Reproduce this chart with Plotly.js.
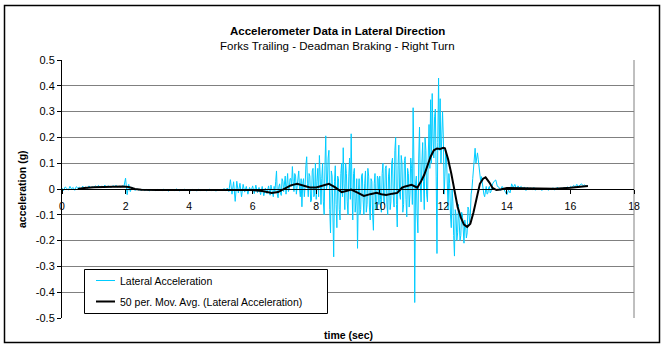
<!DOCTYPE html>
<html><head><meta charset="utf-8">
<script src="https://cdn.plot.ly/plotly-3.0.1.min.js"></script>
<style>html,body{margin:0;padding:0;background:#fff}#chart{width:662px;height:345px}</style>
</head><body><div id="chart"></div>
<script>
// Raw lateral acceleration (g) in three runs
// run 1: t = 0 .. 6.5 s every 0.05 s
const headStart = 0, headStep = 0.05;
const accelHead = [
 0.004,-0.006,0.008,0.002,-0.004,0.01,0.0,0.006,-0.005,0.009,0.003,0.007,-0.002,0.011,0.004,0.008,0.002,0.012,0.005,0.009,
 0.006,0.012,0.008,0.014,0.005,0.011,0.009,0.015,0.007,0.012,0.01,0.006,0.013,0.009,0.014,0.008,0.011,0.007,0.012,0.01,
 0.042,-0.022,0.018,-0.01,0.008,0.002,-0.006,0.001,-0.004,-0.002,-0.005,0.0,-0.006,-0.002,-0.004,-0.007,-0.001,-0.005,-0.003,-0.006,
 -0.002,-0.006,-0.003,-0.007,-0.001,-0.005,-0.004,-0.008,-0.002,-0.005,-0.003,-0.006,0.0,-0.004,-0.007,-0.003,-0.005,-0.001,-0.006,-0.004,
 -0.003,-0.007,-0.002,-0.005,-0.004,-0.008,-0.001,-0.006,-0.003,-0.005,-0.002,-0.007,-0.004,-0.001,-0.006,-0.003,-0.005,-0.008,-0.002,-0.004,
 -0.003,-0.006,0.002,-0.008,0.004,-0.01,0.036,-0.02,0.028,-0.048,0.03,-0.015,0.022,-0.03,0.018,-0.012,0.01,-0.02,0.006,-0.008,
 0.012,-0.018,0.015,-0.014,0.006,-0.022,0.01,-0.026,0.004,-0.018,0.012
];
// run 2: t = 6.5 .. 13.5 s every 0.025 s (the busy part)
const midStart = 6.5, midStep = 0.025;
const accelMid = [
 0.012,-0.01,-0.024,0.015,0.0,-0.02,-0.03,0.01,-0.01,0.03,0.07,-0.02,-0.034,0.01,0.02,-0.015,-0.025,0.04,0.03,-0.01,
 0.03,0.05,-0.02,0.02,0.06,-0.01,0.0,0.04,0.04,0.01,0.087,0.03,-0.01,0.06,0.05,-0.02,0.02,0.065,0.07,0.0,
 -0.03,0.04,-0.069,0.02,0.04,-0.03,0.01,0.09,0.125,0.02,-0.03,0.06,0.05,-0.05,-0.045,0.07,0.08,-0.03,-0.02,0.1,
 -0.04,0.03,0.08,-0.03,0.13,0.05,-0.06,0.04,0.1,-0.05,-0.1,0.09,0.206,0.0,0.02,0.12,0.15,-0.08,-0.17,0.07,
 0.05,-0.1,-0.263,0.03,0.09,-0.06,-0.15,0.05,0.04,-0.08,-0.12,0.06,0.1,-0.03,0.16,0.02,-0.08,0.1,0.06,-0.05,
 -0.1,0.05,0.12,-0.04,0.214,0.0,-0.12,0.06,0.08,-0.09,-0.05,0.04,-0.23,-0.02,0.04,-0.1,-0.08,0.05,0.06,-0.04,
 -0.1,0.02,0.07,-0.09,-0.06,0.08,0.05,-0.07,-0.12,0.04,0.03,-0.1,-0.16,0.02,0.06,-0.08,-0.07,0.05,0.04,-0.06,
 0.05,-0.04,-0.09,0.06,0.1,-0.05,-0.06,0.08,0.09,-0.06,-0.1,0.05,0.08,-0.08,-0.05,0.1,0.12,-0.03,-0.07,0.15,
 0.2,-0.06,-0.147,0.09,0.17,-0.02,-0.04,0.13,0.1,-0.09,-0.06,0.11,0.125,-0.04,-0.108,0.08,0.06,-0.07,-0.02,0.12,
 0.08,-0.06,0.315,0.1,-0.44,0.02,0.05,-0.1,-0.17,0.12,0.24,0.02,-0.05,0.1,0.18,0.03,-0.08,0.2,0.15,-0.02,
 -0.05,0.12,0.25,0.08,0.346,0.1,0.37,0.2,0.12,0.28,0.31,0.05,-0.25,0.18,0.43,0.15,0.35,0.1,0.24,0.3,
 0.2,-0.02,0.05,0.15,0.12,-0.05,-0.08,0.06,0.02,-0.1,-0.15,0.0,-0.05,-0.18,-0.26,-0.08,-0.1,-0.2,-0.17,-0.06,
 -0.12,-0.2,-0.18,-0.09,-0.1,-0.16,-0.21,-0.12,-0.14,-0.19,-0.17,-0.07,-0.08,-0.13,-0.1,-0.02,0.0,0.04,0.074,0.12,
 0.158,0.1,0.13,0.14,0.113,0.08,0.07,0.03,0.048,0.02,0.01,-0.02,-0.03,0.0,0.01,-0.02,-0.017,0.005,0.01,-0.015,-0.01
];
// run 3: t = 13.5 .. 16.55 s every 0.05 s
const tailStart = 13.5, tailStep = 0.05;
const accelTail = [
 -0.01,0.02,0.03,0.035,0.01,0.007,-0.005,0.01,0.0,-0.01,
 -0.022,-0.005,-0.015,0.02,0.005,0.018,0.0,0.012,0.004,0.01,0.0,0.008,-0.006,0.006,-0.004,0.004,-0.002,0.006,-0.005,0.003,
 -0.004,0.003,-0.006,0.002,-0.003,0.004,-0.005,0.001,-0.002,0.005,-0.004,0.002,0.006,-0.002,0.004,0.0,0.007,0.002,0.008,0.004,
 0.01,0.005,0.014,0.008,0.018,0.01,0.015,0.02,0.012,0.016,0.01,0.014
];

// 50 per. moving average
const movAvgTime = [0.5,0.7,1.0,1.3,1.6,1.9,2.1,2.3,2.5,3.0,4.0,5.0,5.5,5.8,6.0,6.3,6.6,6.8,7.0,7.2,7.4,7.6,7.8,8.0,8.2,8.4,8.6,8.8,9.0,9.1,9.3,9.5,9.7,9.9,10.05,10.2,10.4,10.55,10.7,10.8,11.0,11.1,11.18,11.3,11.4,11.5,11.6,11.7,11.8,11.9,12.0,12.05,12.15,12.25,12.35,12.45,12.55,12.65,12.75,12.85,12.95,13.05,13.15,13.25,13.33,13.45,13.55,13.67,13.8,14.0,14.5,15.0,15.5,16.0,16.3,16.55];
const movAvgValue = [0.0,0.004,0.007,0.009,0.009,0.01,0.008,0.0,-0.003,-0.004,-0.004,-0.004,-0.002,-0.003,-0.004,-0.008,-0.015,-0.012,0.0,0.014,0.02,0.012,0.006,0.006,0.012,0.02,0.006,-0.012,-0.006,-0.002,-0.014,-0.027,-0.02,-0.015,-0.02,-0.023,-0.018,-0.015,0.005,0.01,0.016,0.008,0.005,0.03,0.055,0.09,0.125,0.15,0.157,0.155,0.16,0.158,0.115,0.06,-0.01,-0.07,-0.11,-0.138,-0.147,-0.135,-0.09,-0.04,0.02,0.04,0.045,0.025,0.004,-0.004,-0.002,0.004,0.003,0.0,0.001,0.005,0.009,0.012];

const yTickVals = [0.5,0.4,0.3,0.2,0.1,0,-0.1,-0.2,-0.3,-0.4,-0.5];
const yTickText = ["0.5","0.4","0.3","0.2","0.1","0","-0.1","-0.2","-0.3","-0.4","-0.5"];
const xTickVals = [0,2,4,6,8,10,12,14,16,18];
const xTickText = ["0","2","4","6","8","10","12","14","16","18"];

const seriesNames = ["Lateral Acceleration","50 per. Mov. Avg. (Lateral Acceleration)"];
const seriesColors = ["#00CCFF","#000000"];

const FONT = "Arial, 'Liberation Sans', sans-serif";
const L = 62, R = 634, T = 60, B = 318;
const W = 662, H = 345;
const px = x => (x - L) / (R - L);
const py = y => (B - y) / (B - T);

const rawLine = {color:seriesColors[0], width:1};
const traces = [
  {type:'scatter', mode:'lines', name:seriesNames[0], y:accelHead, x0:headStart, dx:headStep, line:rawLine, hoverinfo:'skip'},
  {type:'scatter', mode:'lines', name:seriesNames[0], y:accelMid, x0:midStart, dx:midStep, line:rawLine, hoverinfo:'skip'},
  {type:'scatter', mode:'lines', name:seriesNames[0], y:accelTail, x0:tailStart, dx:tailStep, line:rawLine, hoverinfo:'skip'},
  {type:'scatter', mode:'lines', name:seriesNames[1], x:movAvgTime, y:movAvgValue,
   line:{color:seriesColors[1], width:2}, hoverinfo:'skip'}
];

const shapes = [
  {type:'rect', xref:'paper', yref:'paper', x0:px(4.5), x1:px(659.5), y0:py(342.5), y1:py(5.5),
   line:{color:'#000', width:1.5}, layer:'below'},
  {type:'line', xref:'paper', yref:'paper', x0:1, x1:1, y0:0, y1:1, line:{color:'#808080', width:1}, layer:'below'},
  {type:'rect', xref:'paper', yref:'paper', x0:px(84.5), x1:px(327.5), y0:py(313.5), y1:py(269.5),
   line:{color:'#000', width:1}, fillcolor:'#fff', layer:'above'},
  {type:'line', xref:'paper', yref:'paper', x0:px(96), x1:px(115), y0:py(280.5), y1:py(280.5),
   line:{color:seriesColors[0], width:1}, layer:'above'},
  {type:'line', xref:'paper', yref:'paper', x0:px(96), x1:px(115), y0:py(301.5), y1:py(301.5),
   line:{color:seriesColors[1], width:2}, layer:'above'}
];

const annotations = [
  {xref:'paper', yref:'paper', x:px(337), y:py(31), text:'<b>Accelerometer Data in Lateral Direction</b>',
   showarrow:false, xanchor:'center', yanchor:'middle', font:{family:FONT, size:11.5, color:'#000'}},
  {xref:'paper', yref:'paper', x:px(337), y:py(46), text:'Forks Trailing - Deadman Braking - Right Turn',
   showarrow:false, xanchor:'center', yanchor:'middle', font:{family:FONT, size:11.5, color:'#000'}},
  {xref:'paper', yref:'paper', x:px(22), y:py(189), text:'<b>acceleration (g)</b>', textangle:-90,
   showarrow:false, xanchor:'center', yanchor:'middle', font:{family:FONT, size:10.5, color:'#000'}},
  {xref:'paper', yref:'paper', x:px(348), y:py(335), text:'<b>time (sec)</b>',
   showarrow:false, xanchor:'center', yanchor:'middle', font:{family:FONT, size:10.5, color:'#000'}},
  {xref:'paper', yref:'paper', x:px(118), y:py(280.5), text:seriesNames[0],
   showarrow:false, xanchor:'left', yanchor:'middle', font:{family:FONT, size:10.5, color:'#000'}},
  {xref:'paper', yref:'paper', x:px(118), y:py(301.5), text:seriesNames[1],
   showarrow:false, xanchor:'left', yanchor:'middle', font:{family:FONT, size:10.5, color:'#000'}}
];

const layout = {
  width:W, height:H,
  margin:{l:L, r:W-R, t:T, b:H-B, pad:0},
  paper_bgcolor:'#fff', plot_bgcolor:'#fff',
  showlegend:false,
  font:{family:FONT, size:10.5, color:'#000'},
  xaxis:{range:[0,18], anchor:'free', position:0.5, showgrid:false, zeroline:false,
    showline:true, linecolor:'#000', linewidth:1, ticks:'outside', ticklen:4, tickcolor:'#000',
    tickvals:xTickVals, ticktext:xTickText, tickfont:{family:FONT, size:10.5, color:'#000'},
    ticklabelstandoff:3},
  yaxis:{range:[-0.5,0.5], showgrid:true, gridcolor:'#808080', gridwidth:1, zeroline:false,
    showline:true, linecolor:'#000', linewidth:1, ticks:'outside', ticklen:4, tickcolor:'#000',
    tickvals:yTickVals, ticktext:yTickText, tickfont:{family:FONT, size:11, color:'#000'}},
  shapes:shapes,
  annotations:annotations
};

Plotly.newPlot('chart', traces, layout, {displayModeBar:false, staticPlot:true});
</script>
</body></html>
